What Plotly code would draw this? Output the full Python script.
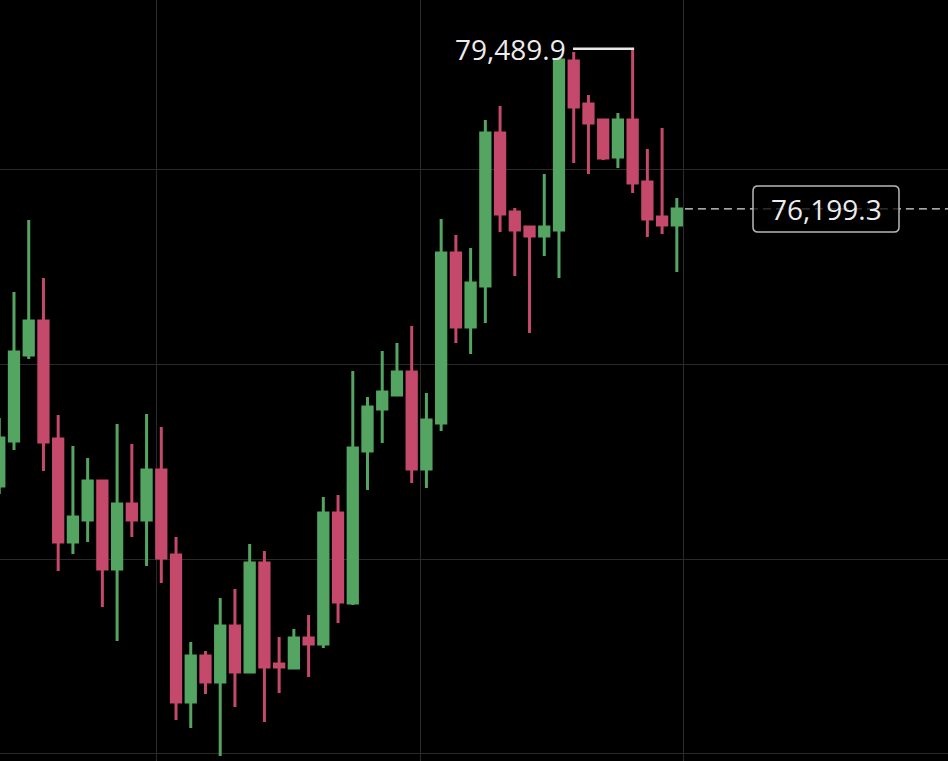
import plotly.graph_objects as go

# ---- data ----
idx = list(range(47))
opens = [70505, 71430, 73197, 73896, 71471, 69354, 69806, 70607, 68799, 70135,
         69806, 70833, 69086, 66065, 67010, 66476, 67627, 66681, 68922, 66846,
         66764, 67380, 67257, 69950, 68100, 71224, 72087, 72375, 72848, 70854,
         71800, 75294, 73773, 74616, 77761, 76137, 75828, 75643, 75767, 79240,
         78357, 78028, 77267, 78028, 76753, 76034, 75869]
highs = [71902, 74492, 75972, 74780, 71964, 71327, 71080, 70620, 71779, 71368,
         71985, 71717, 69456, 67298, 67113, 68202, 68387, 69312, 69169, 67401,
         67565, 67853, 70279, 70320, 72868, 72334, 73280, 73444, 73793, 72416,
         75993, 75664, 75397, 78028, 78316, 76219, 75840, 76918, 79275, 79425,
         78542, 78040, 78172, 79489.9, 77432, 77863, 76424]
lows = [70340, 71245, 73115, 70813, 68757, 69107, 69354, 68017, 67319, 69456,
        68860, 68511, 65695, 65530, 66229, 64955, 65962, 66670, 65654, 66250,
        66743, 66579, 67175, 67689, 68059, 70422, 71388, 72365, 70566, 70464,
        71635, 73444, 73218, 73855, 75726, 74821, 73650, 75232, 74780, 77144,
        76918, 77206, 77041, 76527, 75623, 75684, 74903]
closes = [71491, 73259, 73896, 71409, 69354, 69867, 70607, 68799, 70135, 69806,
          70833, 69025, 66065, 67010, 66476, 67627, 66681, 68922, 66784, 66784,
          67380, 67257, 69950, 68120, 71286, 72128, 72437, 72848, 70854, 71861,
          75294, 73773, 74677, 77761, 76096, 75767, 75643, 75828, 79261, 78295,
          77966, 77247, 78028, 76733, 75993, 75869, 76199.3]

GREEN = "#54a562"
RED = "#c4496b"
TEXT = "#ececec"
GRID = "#2a2a2a"
FONT = "Open Sans"

W, H = 948, 761
XR = [0.05, 64.41]
YR = [64852, 80494]
upp = (YR[1] - YR[0]) / H  # price units per pixel

fig = go.Figure()
fig.add_trace(go.Candlestick(
    x=idx, open=opens, high=highs, low=lows, close=closes,
    increasing=dict(line=dict(color=GREEN, width=3), fillcolor=GREEN),
    decreasing=dict(line=dict(color=RED, width=3), fillcolor=RED),
    whiskerwidth=0, hoverinfo="skip", showlegend=False,
))

# highest high marker
hi_i = max(idx, key=lambda i: highs[i])
hi_v = highs[hi_i]
fig.add_shape(type="line", xref="x", yref="y", x0=hi_i - 4.05, x1=hi_i + 0.1,
              y0=hi_v, y1=hi_v, line=dict(color="#e8e8e8", width=2.5), layer="above")
fig.add_annotation(x=hi_i - 4.05, y=hi_v, xref="x", yref="y", text=f"{hi_v:,.1f}",
                   showarrow=False, xanchor="right", yanchor="middle", xshift=-5,
                   font=dict(family=FONT, size=28, color=TEXT))

# last price line + label box
last = closes[-1]
fig.add_shape(type="line", xref="x", yref="y", x0=idx[-1] + 0.55, x1=XR[1] + 1,
              y0=last, y1=last, line=dict(color="#dddddd", width=1.3, dash="8px,5px"),
              layer="above")
bx0, bx1 = 753 / W, 899 / W
hh = 23 * upp
rx, ry = 5 / W, 5 * upp
path = (f"M {bx0+rx},{last+hh} L {bx1-rx},{last+hh} Q {bx1},{last+hh} {bx1},{last+hh-ry} "
        f"L {bx1},{last-hh+ry} Q {bx1},{last-hh} {bx1-rx},{last-hh} "
        f"L {bx0+rx},{last-hh} Q {bx0},{last-hh} {bx0},{last-hh+ry} "
        f"L {bx0},{last+hh-ry} Q {bx0},{last+hh} {bx0+rx},{last+hh} Z")
fig.add_shape(type="path", xref="paper", yref="y", path=path,
              fillcolor="rgba(0,0,0,0.75)", line=dict(color="#b8b8b8", width=1.5),
              layer="above")
fig.add_annotation(x=(bx0 + bx1) / 2, y=last, xref="paper", yref="y",
                   text=f"{last:,.1f}", showarrow=False, xanchor="center",
                   yanchor="middle", font=dict(family=FONT, size=28, color=TEXT))

fig.update_layout(
    width=W, height=H, margin=dict(l=0, r=0, t=0, b=0),
    paper_bgcolor="black", plot_bgcolor="black",
    boxgap=0.1, showlegend=False, hovermode=False,
    xaxis=dict(range=XR, showticklabels=False, showgrid=True, gridcolor=GRID,
               gridwidth=1, tick0=10.66, dtick=17.91, zeroline=False,
               rangeslider=dict(visible=False), showline=False, ticks=""),
    yaxis=dict(range=YR, showticklabels=False, showgrid=True, gridcolor=GRID,
               gridwidth=1, tick0=65000, dtick=4000, zeroline=False,
               showline=False, ticks=""),
)

fig.write_html("out.html")
